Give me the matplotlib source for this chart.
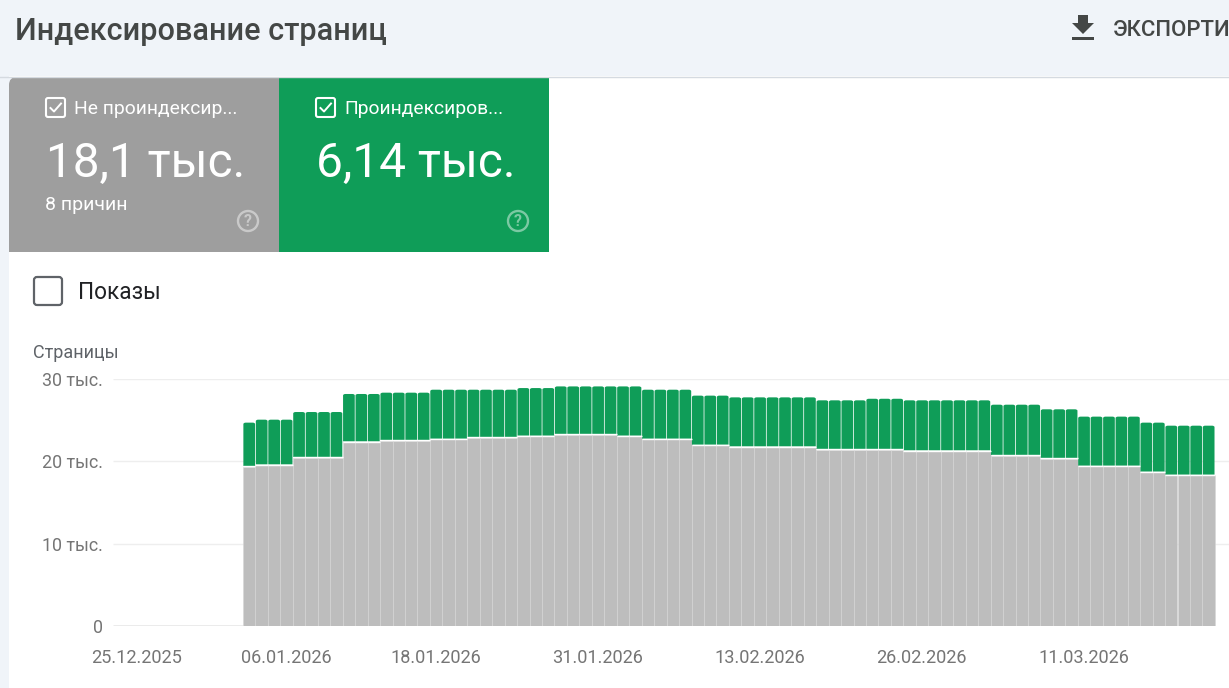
import datetime as dt

import matplotlib
matplotlib.use("Agg")
import matplotlib.dates as mdates
import matplotlib.pyplot as plt
import numpy as np
from matplotlib.patches import Circle, FancyBboxPatch, PathPatch, Polygon, Rectangle
from matplotlib.path import Path
from matplotlib.transforms import ScaledTranslation

plt.rcParams["font.family"] = ["Roboto", "DejaVu Sans"]

# values, one per day starting 06.01.2026
not_indexed = [19350, 19550, 19550, 19550, 20450, 20450, 20450, 20450, 22350, 22350,
               22350, 22510, 22510, 22510, 22510, 22670, 22670, 22670, 22870, 22870,
               22870, 22870, 23040, 23040, 23040, 23240, 23240, 23240, 23240, 23240,
               23040, 23040, 22670, 22670, 22670, 22670, 21940, 21940, 21940, 21740,
               21740, 21740, 21740, 21740, 21740, 21740, 21420, 21420, 21420, 21420,
               21420, 21420, 21420, 21260, 21260, 21260, 21260, 21260, 21260, 21260,
               20690, 20690, 20690, 20690, 20320, 20320, 20320, 19390, 19390, 19390,
               19390, 19390, 18670, 18670, 18300, 18300, 18300, 18300]
indexed = [5350, 5510, 5510, 5510, 5540, 5540, 5540, 5540, 5830, 5830,
           5830, 5830, 5830, 5830, 5830, 6030, 6030, 6030, 5830, 5830,
           5830, 5830, 5860, 5860, 5860, 5860, 5860, 5860, 5860, 5860,
           6060, 6060, 6030, 6030, 6030, 6030, 6040, 6040, 6040, 6030,
           6030, 6030, 6030, 6030, 6030, 6030, 5990, 5990, 5990, 5990,
           6180, 6180, 6180, 6150, 6150, 6150, 6150, 6150, 6150, 6150,
           6190, 6190, 6190, 6190, 6000, 6000, 6000, 6040, 6040, 6040,
           6040, 6040, 6030, 6030, 6030, 6030, 6030, 6030]
first_day = dt.date(2026, 1, 6)
date_ticks = [dt.date(2025, 12, 25), dt.date(2026, 1, 6), dt.date(2026, 1, 18),
              dt.date(2026, 1, 31), dt.date(2026, 2, 13), dt.date(2026, 2, 26),
              dt.date(2026, 3, 11)]
y_ticks = [0, 10000, 20000, 30000]
y_labels = ["0", "10 тыс.", "20 тыс.", "30 тыс."]

W, H = 1229, 688
GREEN = "#0f9d58"
GRAY_CARD = "#9e9e9e"
GRAY_BAR = "#bdbdbd"
PAGE = "#f0f4f9"
DAY_PX = 12.46

fig = plt.figure(figsize=(W / 100, H / 100), dpi=100, facecolor="white")

# page furniture, drawn in pixel coordinates
ui = fig.add_axes([0, 0, 1, 1])
ui.set_xlim(0, W)
ui.set_ylim(H, 0)
ui.axis("off")
ui.add_patch(Rectangle((0, 0), W, 76, fc=PAGE, ec="none"))
ui.add_patch(Rectangle((0, 0), 9, H, fc=PAGE, ec="none"))
ui.plot([0, W], [76.5, 76.5], color="#d5dae0", lw=1)

ui.text(15, 32, "Индексирование страниц", fontsize=22.1, color="#444746",
        va="center", ha="left", fontweight="medium")
ui.text(1113, 31, "ЭКСПОРТИ", fontsize=15.9, color="#444746", va="center",
        ha="left", fontweight="medium")
ui.add_patch(Polygon([(1078, 15), (1088, 15), (1088, 23), (1094, 23), (1083, 34), (1072, 23), (1078, 23)],
                     fc="#444746", ec="none"))
ui.add_patch(Rectangle((1072, 37), 22, 2.5, fc="#444746", ec="none"))

ui.add_patch(Rectangle((9, 77), 270, 175, fc=GRAY_CARD, ec="none"))
ui.add_patch(Rectangle((9, 77), 8, 8, fc=PAGE, ec="none"))
ui.add_patch(FancyBboxPatch((9, 77), 20, 20, boxstyle="round,pad=0,rounding_size=8", fc=GRAY_CARD, ec="none"))
ui.add_patch(Rectangle((279, 77), 270, 175, fc=GREEN, ec="none"))


def checkbox(x, y):
    ui.add_patch(FancyBboxPatch((x, y), 19, 19, boxstyle="round,pad=0,rounding_size=2",
                                fc="none", ec="white", lw=1.5))
    ui.plot([x + 4.5, x + 8, x + 15], [y + 10, y + 13.5, y + 5.5], color="white", lw=1.4)


def help_icon(x, y):
    ui.add_patch(Circle((x, y), 10, fc="none", ec="white", lw=1.7, alpha=0.45))
    ui.text(x, y + 0.5, "?", color="white", alpha=0.45, fontsize=11.5, ha="center", va="center",
            fontweight="bold")


checkbox(46, 98)
checkbox(316, 98)
ui.text(74.5, 109, "Не проиндексир...", fontsize=13.9, color="white", va="center", ha="left")
ui.text(344.5, 109, "Проиндексиров...", fontsize=13.9, color="white", va="center", ha="left")
ui.text(45.5, 164, "18,1 тыс.", fontsize=34.4, color="white", va="center", ha="left")
ui.text(315.5, 164, "6,14 тыс.", fontsize=34.4, color="white", va="center", ha="left")
ui.text(45, 205.5, "8 причин", fontsize=14, color="white", va="center", ha="left")
help_icon(248, 221)
help_icon(518, 221)

ui.add_patch(FancyBboxPatch((34, 277), 28, 28, boxstyle="round,pad=0,rounding_size=3",
                            fc="white", ec="#5f6368", lw=1.6))
ui.text(78.5, 292.5, "Показы", fontsize=16.3, color="#202124", va="center", ha="left")
ui.text(33, 353.5, "Страницы", fontsize=13, color="#5f6368", va="center", ha="left")

# chart axes, left edge sits under the first date label
LEFT_PX, TOP_PX, BOTTOM_PX = 88, 379, 626
ax = fig.add_axes([LEFT_PX / W, 1 - BOTTOM_PX / H, (W - LEFT_PX) / W, (BOTTOM_PX - TOP_PX) / H])
ax.patch.set_alpha(0)
d0 = mdates.date2num(first_day)
ax.set_xlim(d0 - (243 - LEFT_PX) / DAY_PX, d0 + (W - 243) / DAY_PX)
ax.set_ylim(0, 30000)
for s in ax.spines.values():
    s.set_visible(False)

grid_start = d0 - (243 - 113) / DAY_PX
ax.hlines(y_ticks[1:], grid_start, ax.get_xlim()[1], color="#eeeeee", lw=1, zorder=0)
ax.hlines(0, grid_start, d0, color="#9a9a9a", lw=1, zorder=1)

gray = np.array(not_indexed)
green = np.array(indexed)
days = d0 + np.arange(len(gray))
ax.bar(days, gray, width=1, align="edge", color=GRAY_BAR, edgecolor="#d6d6d6", linewidth=0.4, zorder=2)


def rounded_top(x, bottom, top, w=1.0, rx=0.2, ry=180):
    verts = [(x, bottom), (x, top - ry), (x, top), (x + rx, top), (x + w - rx, top),
             (x + w, top), (x + w, top - ry), (x + w, bottom), (x, bottom)]
    codes = [Path.MOVETO, Path.LINETO, Path.CURVE3, Path.CURVE3, Path.LINETO,
             Path.CURVE3, Path.CURVE3, Path.LINETO, Path.CLOSEPOLY]
    return PathPatch(Path(verts, codes), fc=GREEN, ec="none", zorder=3)


for x, b, g in zip(days, gray, green):
    ax.add_patch(rounded_top(x + 0.03, b + 80, b + g, w=0.94))
ax.hlines(gray + 40, days, days + 1, color="white", lw=1, zorder=4)

ax.set_yticks(y_ticks, y_labels)
ax.tick_params(axis="y", length=0, pad=-10.8, labelsize=12.9, labelcolor="#757575")
ax.set_xticks([mdates.date2num(d) for d in date_ticks],
              [d.strftime("%d.%m.%Y") for d in date_ticks])
ax.tick_params(axis="x", length=0, pad=16.5, labelsize=13.05, labelcolor="#757575")
shift = ScaledTranslation(-2 / 100, 0, fig.dpi_scale_trans)
for lab in ax.get_xticklabels():
    lab.set_ha("left")
    lab.set_transform(lab.get_transform() + shift)

fig.savefig("out.png", dpi=100)
